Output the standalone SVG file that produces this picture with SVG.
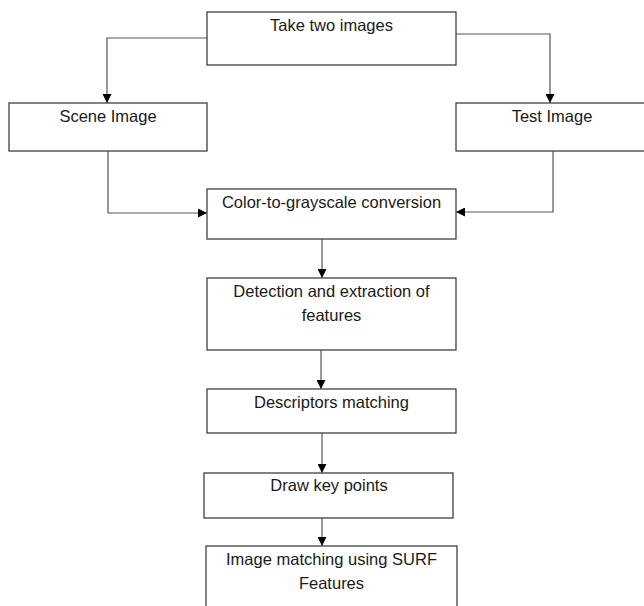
<svg xmlns="http://www.w3.org/2000/svg" width="644" height="606" viewBox="0 0 644 606">
<style>
.box{fill:#fff;stroke:#404040;stroke-width:1.3}
.lbl{font-family:"Liberation Sans",Arial,sans-serif;font-size:16.5px;fill:#1a1a1a;text-anchor:middle}
.con{fill:none;stroke:#555;stroke-width:1.2}
</style>
<defs>
<marker id="ah" viewBox="0 0 10 10" refX="10" refY="5" markerWidth="9" markerHeight="9" markerUnits="userSpaceOnUse" orient="auto">
<path d="M0,0 L10,5 L0,10 z" fill="#000"/>
</marker>
</defs>
<rect width="644" height="606" fill="#fff"/>
<g id="connectors">
<path class="con" d="M207,38 H107 V103" marker-end="url(#ah)"/>
<path class="con" d="M456,34 H550 V103" marker-end="url(#ah)"/>
<path class="con" d="M108,151 V213 H207" marker-end="url(#ah)"/>
<path class="con" d="M553,151 V212 H456" marker-end="url(#ah)"/>
<path class="con" d="M322,239 V278" marker-end="url(#ah)"/>
<path class="con" d="M321,350 V389" marker-end="url(#ah)"/>
<path class="con" d="M322,433 V473" marker-end="url(#ah)"/>
<path class="con" d="M322,518 V546" marker-end="url(#ah)"/>
</g>
<g id="take">
<rect class="box" x="207" y="12" width="249" height="53"/>
<text class="lbl" x="331.5" y="31">Take two images</text>
</g>
<g id="scene">
<rect class="box" x="9" y="103" width="198" height="48"/>
<text class="lbl" x="108" y="122">Scene Image</text>
</g>
<g id="test">
<rect class="box" x="456" y="103" width="196" height="48"/>
<text class="lbl" x="552" y="122">Test Image</text>
</g>
<g id="gray">
<rect class="box" x="207" y="189" width="249" height="50"/>
<text class="lbl" x="331.5" y="208">Color-to-grayscale conversion</text>
</g>
<g id="detect">
<rect class="box" x="207" y="278" width="249" height="72"/>
<text class="lbl" x="331.5" y="297">Detection and extraction of</text>
<text class="lbl" x="331.5" y="321">features</text>
</g>
<g id="desc">
<rect class="box" x="207" y="389" width="249" height="44"/>
<text class="lbl" x="331.5" y="408">Descriptors matching</text>
</g>
<g id="draw">
<rect class="box" x="204" y="473" width="249" height="45"/>
<text class="lbl" x="329" y="491">Draw key points</text>
</g>
<g id="match">
<rect class="box" x="206" y="546" width="251" height="70"/>
<text class="lbl" x="331.5" y="565">Image matching using SURF</text>
<text class="lbl" x="331.5" y="589">Features</text>
</g>
</svg>
